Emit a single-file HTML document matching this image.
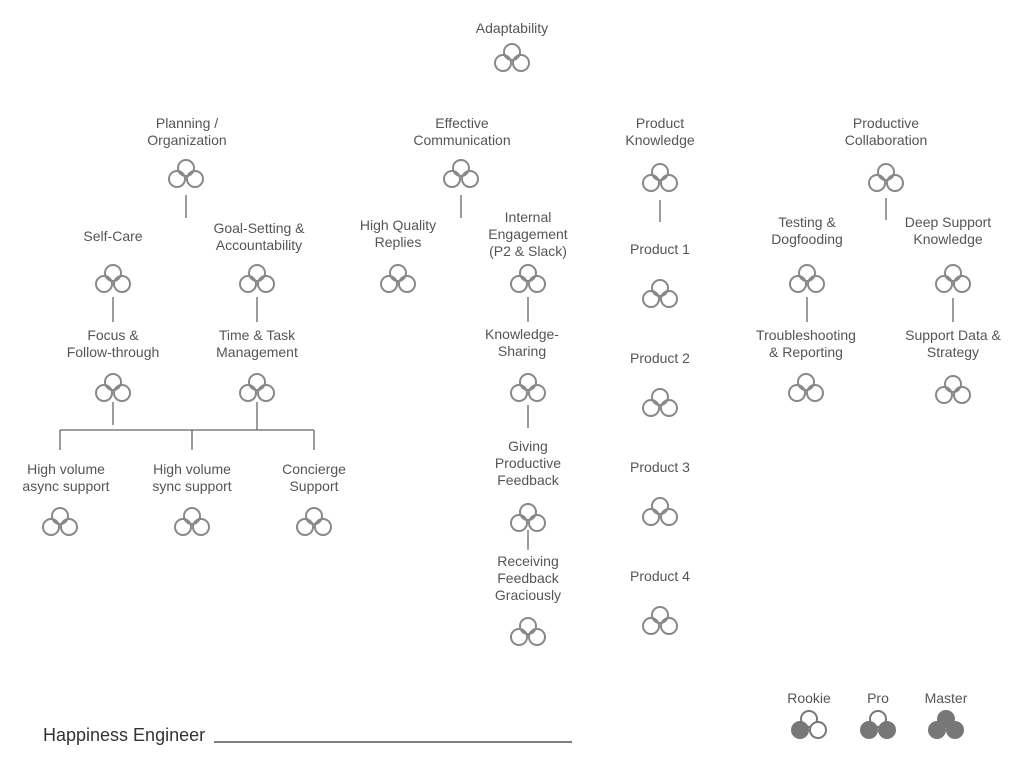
<!DOCTYPE html>
<html><head><meta charset="utf-8"><style>body{margin:0;background:#fff}svg{display:block}</style></head>
<body>
<svg width="1024" height="768" xmlns="http://www.w3.org/2000/svg">
<defs>
<g id="ic" fill="none" stroke="#888" stroke-width="2"><circle cx="0" cy="0" r="8"/><circle cx="-9" cy="11" r="8"/><circle cx="9" cy="11" r="8"/></g>
</defs>
<g font-family="Liberation Sans, sans-serif" font-size="14" fill="#555" text-anchor="middle">
<text x="512" y="33">Adaptability</text>
<text x="187" y="128">Planning /</text><text x="187" y="145">Organization</text>
<text x="113" y="241">Self-Care</text>
<text x="259" y="233">Goal-Setting &amp;</text><text x="259" y="250">Accountability</text>
<text x="113" y="340">Focus &amp;</text><text x="113" y="357">Follow-through</text>
<text x="257" y="340">Time &amp; Task</text><text x="257" y="357">Management</text>
<text x="66" y="474">High volume</text><text x="66" y="491">async support</text>
<text x="192" y="474">High volume</text><text x="192" y="491">sync support</text>
<text x="314" y="474">Concierge</text><text x="314" y="491">Support</text>
<text x="462" y="128">Effective</text><text x="462" y="145">Communication</text>
<text x="398" y="230">High Quality</text><text x="398" y="247">Replies</text>
<text x="528" y="222">Internal</text><text x="528" y="239">Engagement</text><text x="528" y="256">(P2 &amp; Slack)</text>
<text x="522" y="339">Knowledge-</text><text x="522" y="356">Sharing</text>
<text x="528" y="451">Giving</text><text x="528" y="468">Productive</text><text x="528" y="485">Feedback</text>
<text x="528" y="566">Receiving</text><text x="528" y="583">Feedback</text><text x="528" y="600">Graciously</text>
<text x="660" y="128">Product</text><text x="660" y="145">Knowledge</text>
<text x="660" y="254">Product 1</text><text x="660" y="363">Product 2</text><text x="660" y="472">Product 3</text><text x="660" y="581">Product 4</text>
<text x="886" y="128">Productive</text><text x="886" y="145">Collaboration</text>
<text x="807" y="227">Testing &amp;</text><text x="807" y="244">Dogfooding</text>
<text x="948" y="227">Deep Support</text><text x="948" y="244">Knowledge</text>
<text x="806" y="340">Troubleshooting</text><text x="806" y="357">&amp; Reporting</text>
<text x="953" y="340">Support Data &amp;</text><text x="953" y="357">Strategy</text>
<text x="809" y="703">Rookie</text><text x="878" y="703">Pro</text><text x="946" y="703">Master</text>
<text x="43" y="741" font-size="18" text-anchor="start" fill="#333">Happiness Engineer</text>
</g>
<g stroke="#666" stroke-width="1.3">
<line x1="186" y1="195" x2="186" y2="218"/>
<line x1="113" y1="297" x2="113" y2="322"/><line x1="257" y1="297" x2="257" y2="322"/>
<line x1="113" y1="402" x2="113" y2="425"/><line x1="257" y1="402" x2="257" y2="430"/>
<line x1="60" y1="430" x2="314" y2="430"/>
<line x1="60" y1="430" x2="60" y2="450"/><line x1="192" y1="430" x2="192" y2="450"/><line x1="314" y1="430" x2="314" y2="450"/>
<line x1="461" y1="195" x2="461" y2="218"/>
<line x1="528" y1="297" x2="528" y2="322"/><line x1="528" y1="405" x2="528" y2="428"/><line x1="528" y1="530" x2="528" y2="550"/>
<line x1="660" y1="200" x2="660" y2="222"/>
<line x1="886" y1="198" x2="886" y2="220"/>
<line x1="807" y1="297" x2="807" y2="322"/><line x1="953" y1="298" x2="953" y2="322"/>
<line x1="214" y1="742" x2="572" y2="742" stroke="#333"/>
</g>
<use href="#ic" x="512" y="52"/>
<use href="#ic" x="186" y="168"/>
<use href="#ic" x="113" y="273"/><use href="#ic" x="257" y="273"/>
<use href="#ic" x="113" y="382"/><use href="#ic" x="257" y="382"/>
<use href="#ic" x="60" y="516"/><use href="#ic" x="192" y="516"/><use href="#ic" x="314" y="516"/>
<use href="#ic" x="461" y="168"/>
<use href="#ic" x="398" y="273"/><use href="#ic" x="528" y="273"/>
<use href="#ic" x="528" y="382"/><use href="#ic" x="528" y="512"/><use href="#ic" x="528" y="626"/>
<use href="#ic" x="660" y="172"/><use href="#ic" x="660" y="288"/><use href="#ic" x="660" y="397"/><use href="#ic" x="660" y="506"/><use href="#ic" x="660" y="615"/>
<use href="#ic" x="886" y="172"/>
<use href="#ic" x="807" y="273"/><use href="#ic" x="953" y="273"/>
<use href="#ic" x="806" y="382"/><use href="#ic" x="953" y="384"/>
<g stroke="#777" stroke-width="2">
<circle cx="809" cy="719" r="8" fill="none"/><circle cx="800" cy="730" r="8" fill="#777"/><circle cx="818" cy="730" r="8" fill="#fff"/>
<circle cx="878" cy="719" r="8" fill="#fff"/><circle cx="869" cy="730" r="8" fill="#777"/><circle cx="887" cy="730" r="8" fill="#777"/>
<circle cx="946" cy="719" r="8" fill="#777"/><circle cx="937" cy="730" r="8" fill="#777"/><circle cx="955" cy="730" r="8" fill="#777"/>
</g>
</svg>
</body></html>
